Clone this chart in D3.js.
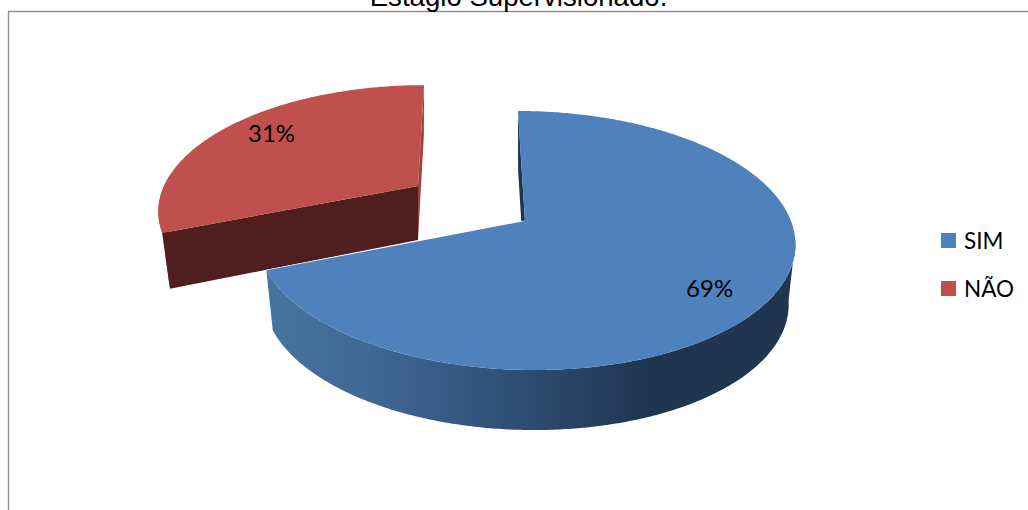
<!DOCTYPE html>
<html>
<head>
<meta charset="utf-8">
<script src="https://cdn.jsdelivr.net/npm/d3@7/dist/d3.min.js"></script>
<style>
  html, body { margin: 0; padding: 0; background: #fff; overflow: hidden; }
  svg { display: block; }
</style>
</head>
<body>
<svg id="chart" width="1028" height="510"></svg>
<script>
// Chart content
const chartTitle = "Estágio Supervisionado.";
const categories = ["SIM", "NÃO"];
const shares = [69, 31];
const topColors = ["#4F81BD", "#C0504D"];

// Perspective set-up of each exploded slice: apex on screen, disc radii,
// depth factor, shear, rim thickness, scale of the lower rim and label placement.
const blueView = { cx: 525, cy: 221, f: 266, g: 126.6, k: 0.1506, shear: 0.064, drop: 60, lowerX: 0.975, lowerY: 1, labelR: 0.8, labelTurn: 0.073 };
const redView  = { cx: 418, cy: 186, f: 254, g: 119, k: 0.18, shear: -0.06, drop: 54, lowerX: 0.97, lowerY: 1.04, labelR: 0.8, labelTurn: 0.047 };
const views = [blueView, redView];

const svg = d3.select("#chart");

// Maps a polar position on a disc to the screen, upper or lower rim.
function project(v, theta, r, lower) {
  const X = Math.sin(theta) * r;
  const Z = Math.cos(theta) * r;
  const d = 1 + v.k * Z;
  const y = -v.g * Z / d;
  const x = v.f * X / d + v.shear * y;
  return lower
    ? [v.cx + x * v.lowerX, v.cy + y * v.lowerY + v.drop]
    : [v.cx + x, v.cy + y];
}

function rim(v, a0, a1, lower) {
  const n = Math.max(2, Math.ceil(Math.abs(a1 - a0) / 0.01));
  return d3.range(n + 1).map(i => project(v, a0 + (a1 - a0) * i / n, 1, lower));
}

const line = d3.line();
const closed = pts => line(pts) + "Z";

const arcs = d3.pie().sort(null)(shares);
const blue = arcs[0], red = arcs[1];

// Frame around the plot
svg.append("path")
  .attr("d", "M8.5,510V11.5H1028")
  .attr("fill", "none")
  .attr("stroke", "#8f8f8f")
  .attr("stroke-width", 1.4);

// Title, sitting just over the top of the frame
svg.append("text")
  .attr("x", 518.5).attr("y", 6)
  .attr("text-anchor", "middle")
  .attr("font-family", "Liberation Sans")
  .attr("font-size", 27.6)
  .attr("fill", "#000")
  .text(chartTitle);

// Gradient running along the curved wall of the large slice
const defs = svg.append("defs");
const grad = defs.append("linearGradient")
  .attr("id", "wallBlue")
  .attr("gradientUnits", "userSpaceOnUse")
  .attr("x1", 267).attr("x2", 650).attr("y1", 0).attr("y2", 0);
[[0, "#47749f"], [0.3, "#3e6693"], [0.65, "#2f4e74"], [1, "#1f3550"]].forEach(s =>
  grad.append("stop").attr("offset", s[0]).attr("stop-color", s[1]));

// Red slice: inner face, curved wall, cut face, then the top
const rv = redView;
const redApex = project(rv, 0, 0, false);
const redApexLow = project(rv, 0, 0, true);
const redEnd = project(rv, red.endAngle, 1, false);
const redEndLow = project(rv, red.endAngle, 1, true);
const redStart = project(rv, red.startAngle, 1, false);
const redStartLow = project(rv, red.startAngle, 1, true);

svg.append("path")
  .attr("d", closed([redEnd, redEndLow, redApexLow, redApex]))
  .attr("fill", "#9c4340");

// The wall only shows as a sliver between the leftmost point of the rim and the cut
const redTurn = Math.PI * 1.5 + 0.08;
const redWall = rim(rv, redTurn, red.startAngle, false).concat([redStartLow]);
svg.append("path").attr("d", closed(redWall)).attr("fill", "#b84c49");

svg.append("path")
  .attr("d", closed([redStart, redApex, redApexLow, redStartLow]))
  .attr("fill", "#4f1f1f");

svg.append("path")
  .attr("d", closed([redApex].concat(rim(rv, red.startAngle, red.endAngle, false))))
  .attr("fill", topColors[1]);

// Blue slice: inner face, curved wall, top
const bv = blueView;
const blueApex = project(bv, 0, 0, false);
const blueApexLow = project(bv, 0, 0, true);
const blueStart = project(bv, blue.startAngle, 1, false);
const blueStartLow = project(bv, blue.startAngle, 1, true);
const blueEnd = project(bv, blue.endAngle, 1, false);

svg.append("path")
  .attr("d", closed([blueStart, blueStartLow, blueApexLow, blueApex]))
  .attr("fill", "#1f3550");

const blueTurn = Math.acos(-bv.k);
const blueWall = rim(bv, blueTurn, blue.endAngle, false)
  .concat(rim(bv, blue.endAngle, blueTurn, true));
svg.append("path").attr("d", closed(blueWall)).attr("fill", "url(#wallBlue)");

// Thin light seam where the two slices meet
svg.append("path")
  .attr("d", line([blueApex, blueEnd]))
  .attr("stroke", "#fff")
  .attr("stroke-width", 1.2)
  .attr("fill", "none");

svg.append("path")
  .attr("d", closed([blueApex].concat(rim(bv, blue.startAngle, blue.endAngle, false))))
  .attr("fill", topColors[0]);

// Percentage labels
arcs.forEach((a, i) => {
  const v = views[i];
  const p = project(v, (a.startAngle + a.endAngle) / 2 + v.labelTurn, v.labelR, false);
  svg.append("text")
    .attr("x", p[0]).attr("y", p[1] + 8.5)
    .attr("text-anchor", "middle")
    .attr("font-family", "Lato")
    .attr("font-size", 24)
    .attr("fill", "#000")
    .text(shares[i] + "%");
});

// Legend
const legendY = d3.scalePoint().domain(categories).range([240.5, 288.5]);
const legend = svg.selectAll("g.key").data(categories).enter().append("g")
  .attr("class", "key")
  .attr("transform", d => `translate(941,${legendY(d)})`);
legend.append("rect")
  .attr("x", 0).attr("y", -7.5).attr("width", 15).attr("height", 15)
  .attr("fill", (d, i) => topColors[i]);
legend.append("text")
  .attr("x", 23).attr("y", 8)
  .attr("font-family", "Lato")
  .attr("font-size", 22.5)
  .attr("fill", "#000")
  .text(d => d);
</script>
</body>
</html>
